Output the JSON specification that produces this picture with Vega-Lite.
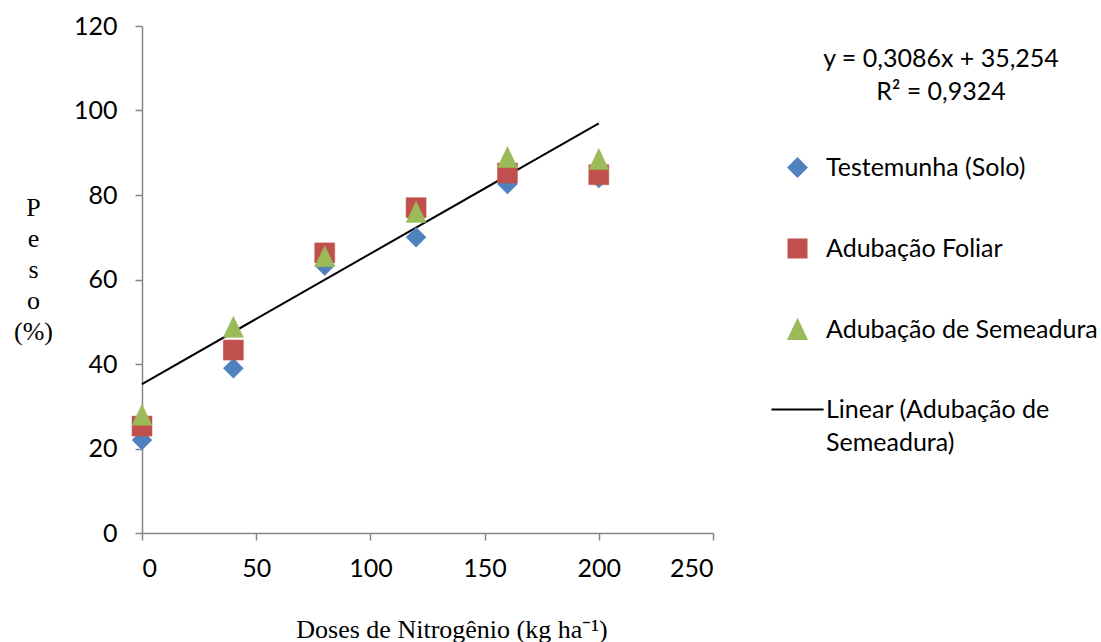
{
  "$schema": "https://vega.github.io/schema/vega-lite/v6.json",
  "autosize": "none",
  "width": 571,
  "height": 507,
  "padding": {"left": 142, "top": 26, "right": 388, "bottom": 109},
  "background": "white",
  "config": {"view": {"stroke": null}, "style": {"guide-label": {"lineHeight": 33}}},
  "datasets": {
    "pts": [
      {"series": "Testemunha (Solo)", "dose": 0, "peso": 22},
      {"series": "Testemunha (Solo)", "dose": 40, "peso": 39},
      {"series": "Testemunha (Solo)", "dose": 80, "peso": 63.3},
      {"series": "Testemunha (Solo)", "dose": 120, "peso": 70},
      {"series": "Testemunha (Solo)", "dose": 160, "peso": 82.6},
      {"series": "Testemunha (Solo)", "dose": 200, "peso": 84},
      {"series": "Adubação Foliar", "dose": 0, "peso": 25.3},
      {"series": "Adubação Foliar", "dose": 40, "peso": 43.3},
      {"series": "Adubação Foliar", "dose": 80, "peso": 66.3},
      {"series": "Adubação Foliar", "dose": 120, "peso": 77},
      {"series": "Adubação Foliar", "dose": 160, "peso": 85.2},
      {"series": "Adubação Foliar", "dose": 200, "peso": 84.8},
      {"series": "Adubação de Semeadura", "dose": 0, "peso": 28},
      {"series": "Adubação de Semeadura", "dose": 40, "peso": 48.8},
      {"series": "Adubação de Semeadura", "dose": 80, "peso": 65.5},
      {"series": "Adubação de Semeadura", "dose": 120, "peso": 76},
      {"series": "Adubação de Semeadura", "dose": 160, "peso": 89},
      {"series": "Adubação de Semeadura", "dose": 200, "peso": 88.5}
    ],
    "trend": [
      {"dose": 0, "peso": 35.254},
      {"dose": 200, "peso": 96.974}
    ]
  },
  "layer": [
    {
      "data": {"name": "trend"},
      "mark": {"type": "line", "color": "black", "strokeWidth": 2},
      "encoding": {
        "x": {"field": "dose", "type": "quantitative"},
        "y": {"field": "peso", "type": "quantitative"}
      }
    },
    {
      "data": {"name": "pts"},
      "mark": {"type": "point", "filled": false, "opacity": 1, "fillOpacity": 1, "strokeOpacity": 1, "strokeWidth": 0.5, "size": 400},
      "encoding": {
        "x": {
          "field": "dose", "type": "quantitative",
          "scale": {"domain": [0, 250], "nice": false},
          "axis": {
            "values": [0, 50, 100, 150, 200, 250],
            "grid": false,
            "domainColor": "#868686", "domainWidth": 1.5,
            "tickColor": "#868686", "tickWidth": 1.5, "tickSize": 7,
            "labelFont": "Lato", "labelFontSize": 25, "labelColor": "black",
            "labelPadding": 16, "labelBaseline": "top",
            "title": "Doses de Nitrogênio (kg ha⁻¹)",
            "titleFont": "Liberation Serif", "titleFontSize": 26, "titleFontWeight": "normal",
            "titleColor": "black", "titleX": 309.5, "titleY": 104,
            "titleAlign": "center", "titleBaseline": "alphabetic"
          }
        },
        "y": {
          "field": "peso", "type": "quantitative",
          "scale": {"domain": [0, 120], "nice": false},
          "axis": {
            "values": [0, 20, 40, 60, 80, 100, 120],
            "grid": false,
            "domainColor": "#868686", "domainWidth": 1.5,
            "tickColor": "#868686", "tickWidth": 1.5, "tickSize": 7,
            "labelFont": "Lato", "labelFontSize": 25, "labelColor": "black",
            "labelPadding": 18,
            "title": ["P", "e", "s", "o", "(%)"],
            "titleFont": "Liberation Serif", "titleFontSize": 26, "titleFontWeight": "normal",
            "titleColor": "black", "titleAngle": 0, "titleX": -109, "titleY": 189,
            "titleAlign": "center", "titleBaseline": "alphabetic", "titleLineHeight": 31
          }
        },
        "fill": {
          "field": "series", "type": "nominal",
          "scale": {
            "domain": ["Testemunha (Solo)", "Adubação Foliar", "Adubação de Semeadura", "Linear (Adubação de Semeadura)"],
            "range": ["#4f81bd", "#c0504d", "#9bbb59", "black"]
          },
          "legend": {
            "orient": "none",
            "legendX": 643,
            "legendY": 21,
            "padding": 0,
            "title": ["y = 0,3086x + 35,254", "R² = 0,9324"],
            "titleFont": "Lato", "titleFontSize": 25, "titleFontWeight": "normal", "titleColor": "black",
            "titleAnchor": "middle", "titleAlign": "center", "titleBaseline": "top",
            "titleLineHeight": 33, "titlePadding": 50, "titleLimit": 600,
            "symbolSize": 324,
            "symbolStrokeWidth": 2,
            "labelFont": "Lato", "labelFontSize": 25, "labelColor": "black",
            "labelLimit": 500, "labelOffset": 16,
            "rowPadding": 54,
            "labelExpr": "datum.label === 'Linear (Adubação de Semeadura)' ? ['Linear (Adubação de', 'Semeadura)'] : datum.label",
            "encode": {
              "labels": {
                "update": {
                  "lineHeight": {"value": 33},
                  "dy": {"signal": "datum.value === 'Linear (Adubação de Semeadura)' ? 19 : 0"}
                }
              }
            }
          }
        },
        "stroke": {
          "field": "series", "type": "nominal",
          "scale": {
            "domain": ["Testemunha (Solo)", "Adubação Foliar", "Adubação de Semeadura", "Linear (Adubação de Semeadura)"],
            "range": ["#4f81bd", "#c0504d", "#9bbb59", "black"]
          }
        },
        "shape": {
          "field": "series", "type": "nominal",
          "scale": {
            "domain": ["Testemunha (Solo)", "Adubação Foliar", "Adubação de Semeadura", "Linear (Adubação de Semeadura)"],
            "range": ["M0,-1L1,0L0,1L-1,0Z", "M-1,-1L1,-1L1,1L-1,1Z", "M0,-1.05L1,1.05L-1,1.05Z", "M-2.9,0L2.9,0"]
          }
        }
      }
    }
  ]
}
